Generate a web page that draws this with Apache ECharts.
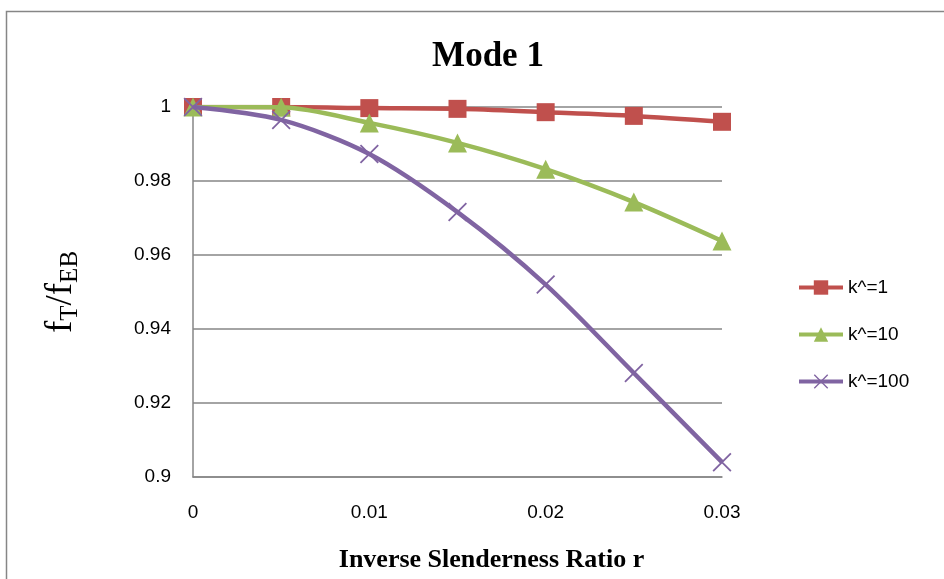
<!DOCTYPE html>
<html>
<head>
<meta charset="utf-8">
<script src="https://cdn.jsdelivr.net/npm/echarts@6/dist/echarts.min.js"></script>
<style>
  html, body { margin: 0; padding: 0; background: #fff; }
  #chart { width: 944px; height: 579px; }
</style>
</head>
<body>
<div id="chart"></div>
<script>
// Inverse slenderness ratio r
const ratios = [0, 0.005, 0.01, 0.015, 0.02, 0.025, 0.03];
// Frequency ratio f_T / f_EB for each stiffness ratio
const k1 = [1.0, 1.0, 0.9997, 0.9995, 0.9986, 0.9976, 0.996];
const k10 = [1.0, 0.9999, 0.9957, 0.9903, 0.9832, 0.9743, 0.9638];
const k100 = [1.0, 0.9965, 0.9873, 0.9716, 0.9520, 0.9281, 0.9040];
const seriesNames = ['k^=1', 'k^=10', 'k^=100'];

// thin diagonal cross marker
const crossPath = 'path://M0,0.8L0.8,0L12,11.2L11.2,12Z M11.2,0L12,0.8L0.8,12L0,11.2Z';

function pairs(vals) { return ratios.map((r, i) => [r, vals[i]]); }

const chart = echarts.init(document.getElementById('chart'));
chart.setOption({
  backgroundColor: '#fff',
  animation: false,
  title: {
    text: 'Mode 1',
    left: 483, top: 34, textAlign: 'center',
    textStyle: { fontFamily: 'Liberation Serif', fontWeight: 'bold', fontSize: 35, color: '#000' }
  },
  graphic: [{
    type: 'rect', left: 4, top: 9,
    shape: { width: 1200, height: 1000 },
    style: { fill: 'none', stroke: '#868686', lineWidth: 1.5 }
  }],
  legend: {
    orient: 'vertical', left: 792, top: 273,
    itemWidth: 44, itemHeight: 18, itemGap: 28,
    lineStyle: { width: 4 },
    textStyle: { fontFamily: 'Liberation Sans', fontSize: 19, color: '#000', padding: [0, 0, 0, 0] },
    data: seriesNames
  },
  grid: { left: 193, right: 222, top: 107, bottom: 102 },
  xAxis: {
    type: 'value', min: 0, max: 0.03, interval: 0.01,
    name: 'Inverse Slenderness Ratio r', nameLocation: 'middle', nameGap: 70,
    nameTextStyle: { fontFamily: 'Liberation Serif', fontWeight: 'bold', fontSize: 26, color: '#000', padding: [0, 0, 0, 68] },
    axisLine: { show: true, onZero: false, lineStyle: { color: '#868686', width: 1.5 } },
    axisTick: { show: false },
    splitLine: { show: false },
    axisLabel: { fontFamily: 'Liberation Sans', fontSize: 19, color: '#000', margin: 26,
      formatter: v => (v === 0 ? '0' : String(+v.toFixed(2))) }
  },
  yAxis: {
    type: 'value', min: 0.9, max: 1, interval: 0.02,
    name: '{f|f}{s|T}{f|/f}{s|EB}', nameLocation: 'middle', nameGap: 110, nameRotate: 90,
    nameTextStyle: {
      rich: {
        f: { fontFamily: 'Liberation Serif', fontSize: 37, color: '#000' },
        s: { fontFamily: 'Liberation Serif', fontSize: 25, color: '#000', padding: [18, 0, 0, 0] }
      }
    },
    axisLine: { show: true, lineStyle: { color: '#868686', width: 1.5 } },
    axisTick: { show: false },
    splitLine: { show: true, lineStyle: { color: '#868686', width: 1.5 } },
    axisLabel: { fontFamily: 'Liberation Sans', fontSize: 19, color: '#000', margin: 22,
      formatter: v => String(+v.toFixed(2)) }
  },
  series: [
    {
      name: seriesNames[0], type: 'line', data: pairs(k1), smooth: 0.3,
      symbol: 'rect', symbolSize: 18,
      lineStyle: { color: '#C0504D', width: 4.5 },
      itemStyle: { color: '#C0504D' }, z: 3
    },
    {
      name: seriesNames[1], type: 'line', data: pairs(k10), smooth: 0.3,
      symbol: 'triangle', symbolSize: 19,
      lineStyle: { color: '#9BBB59', width: 4.5 },
      itemStyle: { color: '#9BBB59' }, z: 4
    },
    {
      name: seriesNames[2], type: 'line', data: pairs(k100), smooth: 0.3,
      symbol: crossPath, symbolSize: 19,
      lineStyle: { color: '#8064A2', width: 4.5 },
      itemStyle: { color: '#8064A2' }, z: 5
    }
  ]
});
</script>
</body>
</html>
